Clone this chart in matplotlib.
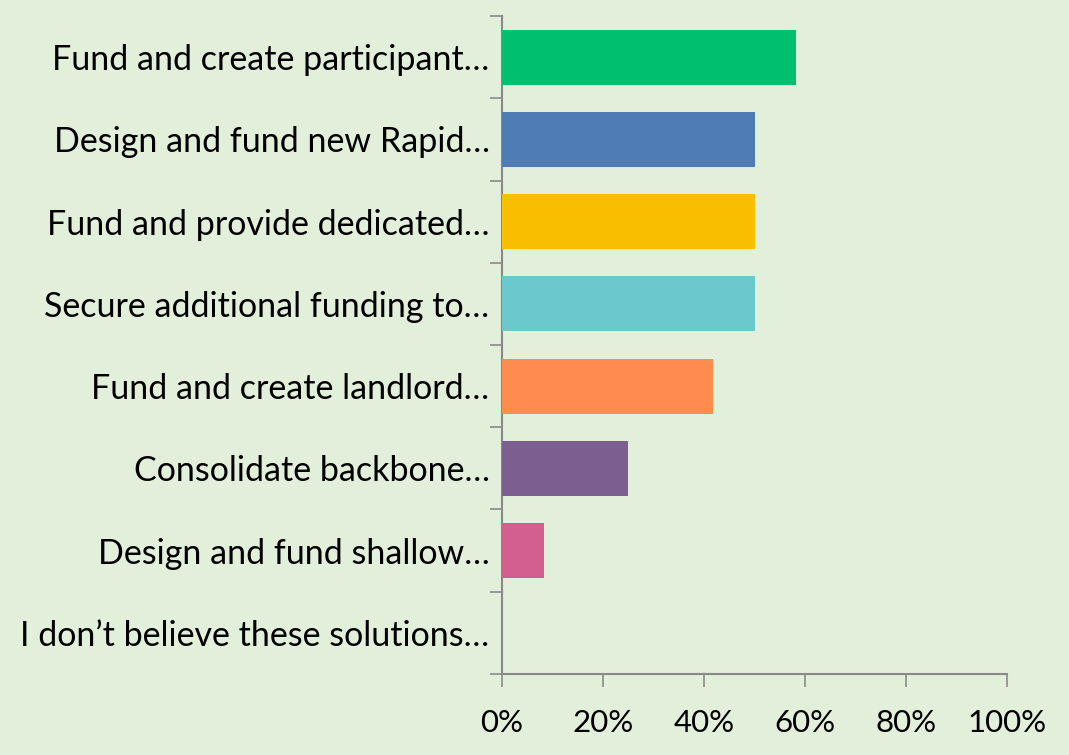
import matplotlib
matplotlib.use("Agg")
import matplotlib.pyplot as plt
from matplotlib.ticker import FixedLocator, PercentFormatter

categories = [
    "Fund and create participant…",
    "Design and fund new Rapid…",
    "Fund and provide dedicated…",
    "Secure additional funding to…",
    "Fund and create landlord…",
    "Consolidate backbone…",
    "Design and fund shallow…",
    "I don’t believe these solutions…",
]
values = [58.3, 50.0, 50.0, 50.0, 41.7, 25.0, 8.3, 0.0]
colors = ["#00BF6F", "#507CB6", "#F9BE00", "#6BC8CD",
          "#FF8B4F", "#7D5E90", "#D25F90", "#A0D468"]
xticks = [0, 20, 40, 60, 80, 100]

bg = "#E2EFDA"
axis_col = "#898989"
plt.rcParams["font.family"] = ["Lato", "DejaVu Sans"]

fig = plt.figure(figsize=(10.69, 7.55), dpi=100, facecolor=bg)
ax = fig.add_axes([0.4696, 0.1073, 0.4724, 0.8715])
ax.set_facecolor(bg)

n = len(categories)
pos = list(range(n))
ax.barh(pos, values, height=0.67, color=colors, zorder=3)
ax.set_ylim(n - 0.5, -0.5)
ax.set_xlim(0, 100)

ax.set_yticks(pos)
ax.set_yticklabels(categories)
ax.yaxis.set_minor_locator(FixedLocator([p - 0.5 for p in pos] + [n - 0.5]))
ax.tick_params(axis="y", which="major", length=0, pad=9, labelsize=24.5, labelcolor="black")
ax.tick_params(axis="y", which="minor", length=9, width=1.2, color=axis_col)

ax.set_xticks(xticks)
ax.xaxis.set_major_formatter(PercentFormatter(decimals=0))
ax.tick_params(axis="x", which="major", length=9, width=1.2, color=axis_col,
               pad=16, labelsize=22.5, labelcolor="black")

for side in ("top", "right"):
    ax.spines[side].set_visible(False)
for side in ("left", "bottom"):
    ax.spines[side].set_color(axis_col)
    ax.spines[side].set_linewidth(1.5)

fig.savefig("out.png", dpi=100, facecolor=bg)
